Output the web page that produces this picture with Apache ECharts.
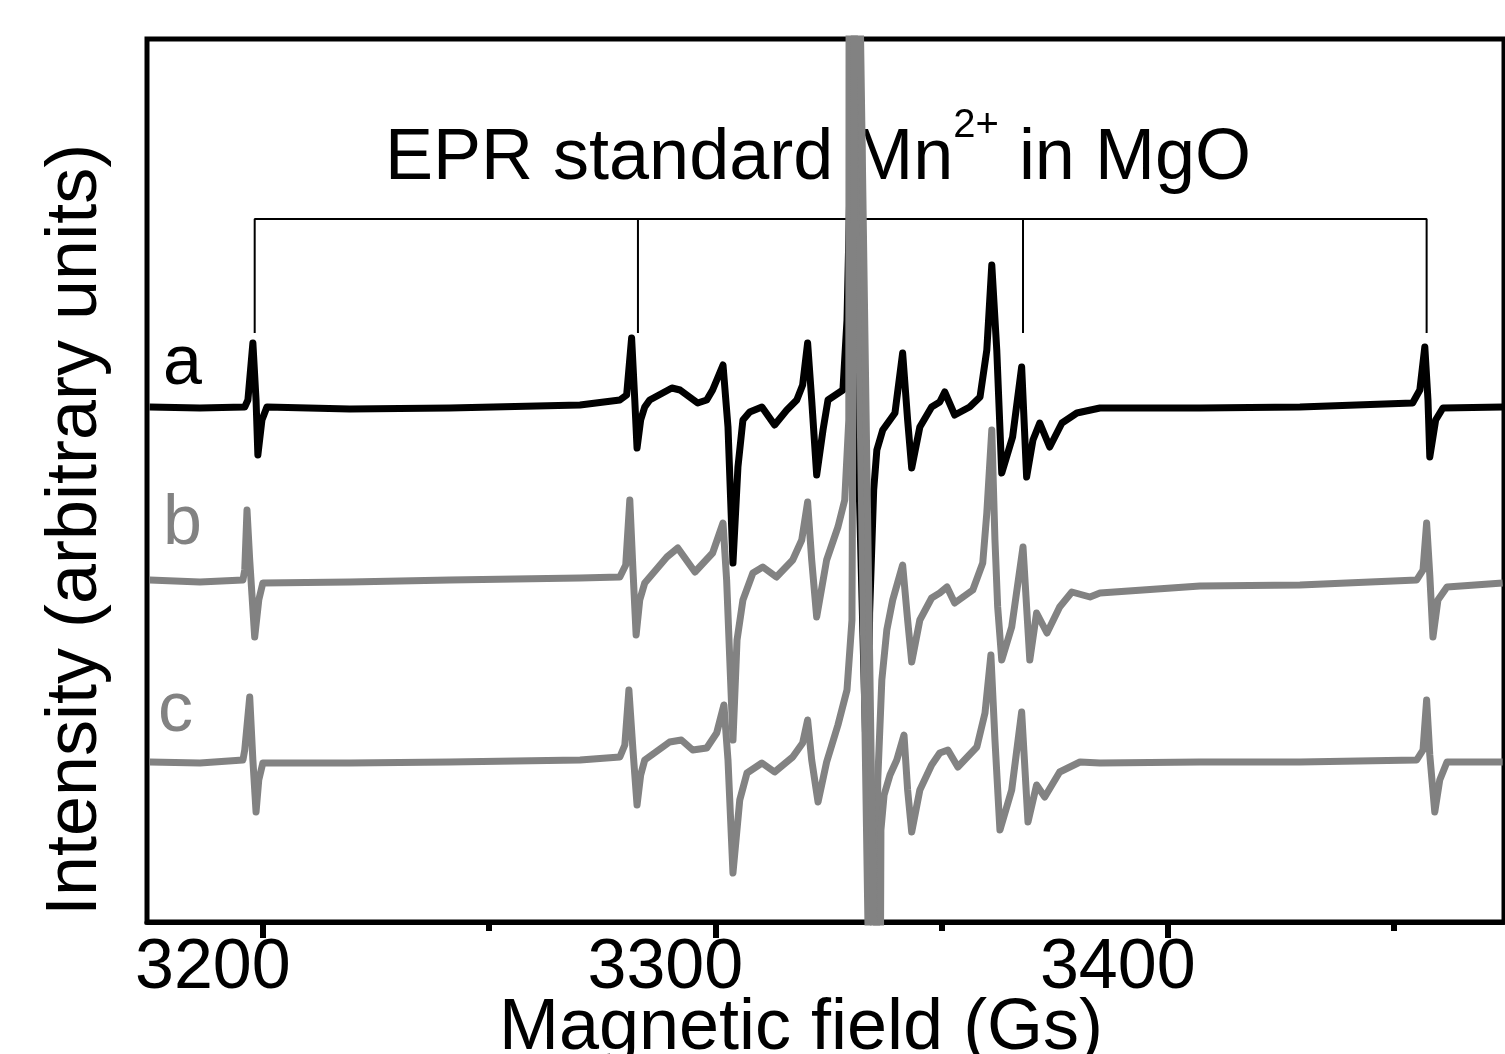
<!DOCTYPE html>
<html>
<head>
<meta charset="utf-8">
<script src="https://cdn.jsdelivr.net/npm/echarts@6/dist/echarts.min.js"></script>
<style>
  html, body { margin: 0; padding: 0; background: #fff; }
  #main { width: 1505px; height: 1054px; }
</style>
</head>
<body>
<div id="main"></div>
<script>
// magnetic field (Gs) / intensity (arb. units)
var traceA = [
  [3175.0,515],[3186.1,514],[3196.0,515],[3196.7,522],[3197.8,579],[3198.5,522],[3198.9,467],[3199.8,502],[3200.9,515],
  [3219.2,513],[3241.3,514],[3270.1,517],[3278.9,522],[3280.4,527],[3281.5,584],[3282.2,522],[3282.7,474],[3283.5,502],
  [3284.4,515],[3285.5,522],[3290.4,534],[3292.2,532],[3296.1,519],[3298.1,522],[3299.4,532],[3301.7,557],[3302.8,495],
  [3303.9,359],[3305.0,455],[3306.1,502],[3307.6,510],[3310.3,515],[3313.1,497],[3315.8,512],[3318.0,522],[3319.3,537],
  [3320.4,579],[3321.3,522],[3322.4,447],[3323.8,492],[3324.9,522],[3328.2,532],[3329.1,602],[3329.9,767],[3333.7,99],
  [3334.1,309],[3335.0,432],[3335.7,472],[3337.0,492],[3339.7,509],[3341.4,569],[3342.5,502],[3343.4,454],[3345.2,495],
  [3347.8,515],[3349.6,520],[3350.7,530],[3352.9,507],[3356.2,515],[3358.5,525],[3360.0,572],[3361.1,657],[3362.2,572],
  [3363.3,449],[3365.7,485],[3367.7,555],[3368.8,445],[3370.2,482],[3371.7,499],[3373.9,475],[3376.6,499],[3379.9,509],
  [3385.0,514],[3407.1,514],[3429.2,515],[3454.1,519],[3455.7,532],[3456.8,575],[3457.5,522],[3457.9,465],[3459.2,502],
  [3460.8,514],[3474.0,515]
];
var traceB = [
  [3175.0,342],[3186.1,340],[3195.6,342],[3196.0,352],[3196.5,412],[3197.1,362],[3198.2,285],[3199.1,322],[3200.0,339],
  [3219.2,340],[3241.3,342],[3270.1,344],[3278.9,345],[3280.2,357],[3281.1,422],[3281.8,352],[3282.5,287],[3283.3,322],
  [3284.4,339],[3289.3,365],[3291.7,374],[3295.5,350],[3299.4,369],[3301.7,399],[3302.5,342],[3303.9,182],[3304.8,282],
  [3306.1,322],[3308.3,349],[3310.5,355],[3313.5,345],[3317.1,362],[3319.1,382],[3320.4,420],[3321.3,362],[3322.4,305],
  [3324.6,362],[3327.1,395],[3328.6,422],[3329.5,502],[3329.6,1222],[3335.0,-378],[3335.9,142],[3336.8,242],[3337.9,292],
  [3339.2,322],[3341.4,357],[3342.5,302],[3343.4,260],[3345.2,302],[3347.8,324],[3349.6,329],[3351.2,335],[3352.9,319],
  [3356.9,332],[3359.1,359],[3360.0,409],[3361.1,492],[3361.8,382],[3362.4,315],[3363.3,262],[3365.5,295],[3368.0,375],
  [3369.5,262],[3371.0,309],[3373.3,289],[3376.1,315],[3378.8,330],[3382.8,325],[3385.0,329],[3407.1,336],[3429.2,337],
  [3455.0,342],[3456.4,352],[3457.2,399],[3457.9,347],[3458.6,285],[3459.7,322],[3461.7,335],[3474.0,339]
];
var traceC = [
  [3175.0,160],[3186.1,159],[3195.6,162],[3196.0,172],[3197.1,225],[3197.8,162],[3198.5,110],[3199.1,142],[3200.0,159],
  [3219.2,159],[3241.3,160],[3270.1,162],[3278.9,165],[3280.0,177],[3280.9,232],[3281.8,172],[3282.7,117],[3283.5,147],
  [3284.4,162],[3289.9,180],[3292.5,182],[3295.0,172],[3298.1,174],[3300.3,189],[3301.9,217],[3302.8,162],[3303.9,49],
  [3305.4,122],[3307.0,149],[3310.3,159],[3313.1,150],[3317.1,165],[3319.3,179],[3320.4,202],[3321.3,162],[3322.7,120],
  [3324.6,160],[3327.1,197],[3329.1,232],[3330.2,302],[3331.0,1222],[3336.2,-378],[3336.6,92],[3337.3,127],[3338.6,147],
  [3340.1,162],[3341.7,187],[3342.5,132],[3343.4,90],[3345.2,132],[3347.8,157],[3349.6,169],[3351.4,172],[3353.6,155],
  [3357.8,175],[3359.6,209],[3360.9,267],[3361.8,182],[3362.9,92],[3365.5,132],[3367.7,210],[3369.1,100],[3371.0,137],
  [3372.8,125],[3376.1,150],[3380.6,160],[3385.0,159],[3407.1,160],[3429.2,160],[3455.0,162],[3456.4,172],[3457.2,222],
  [3457.9,167],[3459.0,110],[3460.1,142],[3461.7,160],[3474.0,160]
];
// Mn2+ hyperfine marker positions and bracket height
var mnLineFields = [3198.2, 3282.9, 3368.0, 3457.2];
var bracketTop = 703;
var bracketFoot = 589;
var majorTicks = [3200, 3300, 3400];
var minorTicks = [3250, 3350, 3450];

var FONT = "'Liberation Sans', Arial, Helvetica, sans-serif";
var GRAY = '#828282';

var bracket = [
  [mnLineFields[0], bracketFoot], [mnLineFields[0], bracketTop],
  [mnLineFields[3], bracketTop], [mnLineFields[3], bracketFoot],
  '-',
  [mnLineFields[1], bracketTop], [mnLineFields[1], bracketFoot],
  '-',
  [mnLineFields[2], bracketTop], [mnLineFields[2], bracketFoot]
];

var chart = echarts.init(document.getElementById('main'));
var option = {
  animation: false,
  backgroundColor: '#fff',
  grid: {
    left: 147, right: 1, top: 39, bottom: 132,
    show: true, borderColor: '#000', borderWidth: 5
  },
  xAxis: [
    {
      type: 'value', min: 3174.4, max: 3474.3,
      axisLine: { show: true, lineStyle: { color: '#000', width: 5 } },
      axisTick: { show: true, customValues: majorTicks, length: 16, lineStyle: { color: '#000', width: 6 } },
      axisLabel: {
        customValues: majorTicks, color: '#000', fontSize: 70, fontFamily: FONT,
        margin: 12, padding: [0, 100, 0, 0],
        formatter: function (v) { return String(v); }
      },
      splitLine: { show: false }
    },
    {
      type: 'value', min: 3174.4, max: 3474.3, position: 'bottom',
      axisLine: { show: false },
      axisTick: { show: true, customValues: minorTicks, length: 9, lineStyle: { color: '#000', width: 6 } },
      axisLabel: { show: false },
      splitLine: { show: false }
    }
  ],
  yAxis: {
    type: 'value', min: 0, max: 883,
    axisLine: { show: false }, axisTick: { show: false },
    axisLabel: { show: false }, splitLine: { show: false }
  },
  graphic: [
    {
      type: 'text', left: 385, top: 106, z: 0,
      style: {
        text: '{m|EPR standard Mn}{s|2+}{m| in MgO}',
        rich: {
          m: { fontSize: 72, fontFamily: FONT, fill: '#000', lineHeight: 106 },
          s: { fontSize: 40, fontFamily: FONT, fill: '#000', lineHeight: 40, verticalAlign: 'top' }
        }
      }
    },
    { type: 'text', x: 163, y: 365, style: { text: 'a', fontSize: 70, fontFamily: FONT, fill: '#000', verticalAlign: 'middle' } },
    { type: 'text', x: 163, y: 525, style: { text: 'b', fontSize: 70, fontFamily: FONT, fill: GRAY, verticalAlign: 'middle' } },
    { type: 'text', x: 158, y: 712, style: { text: 'c', fontSize: 70, fontFamily: FONT, fill: GRAY, verticalAlign: 'middle' } },
    {
      type: 'text', x: 76, y: 530, rotation: Math.PI / 2,
      style: { text: 'Intensity (arbitrary units)', fontSize: 72, fontFamily: FONT, fill: '#000', align: 'center', verticalAlign: 'middle' }
    },
    {
      type: 'text', x: 801, y: 1029,
      style: { text: 'Magnetic field (Gs)', fontSize: 72, fontFamily: FONT, fill: '#000', align: 'center', verticalAlign: 'middle' }
    }
  ],
  series: [
    {
      name: 'Mn2+ lines', type: 'line', data: bracket, symbol: 'none',
      connectNulls: false, lineStyle: { color: '#000', width: 2 }, z: 1
    },
    { name: 'a', type: 'line', data: traceA, symbol: 'none', lineStyle: { color: '#000', width: 7, join: 'round' }, z: 2 },
    { name: 'b', type: 'line', data: traceB, symbol: 'none', lineStyle: { color: GRAY, width: 7, join: 'round' }, z: 3 },
    { name: 'c', type: 'line', data: traceC, symbol: 'none', lineStyle: { color: GRAY, width: 7, join: 'round' }, z: 3 }
  ]
};
chart.setOption(option);
</script>
</body>
</html>
